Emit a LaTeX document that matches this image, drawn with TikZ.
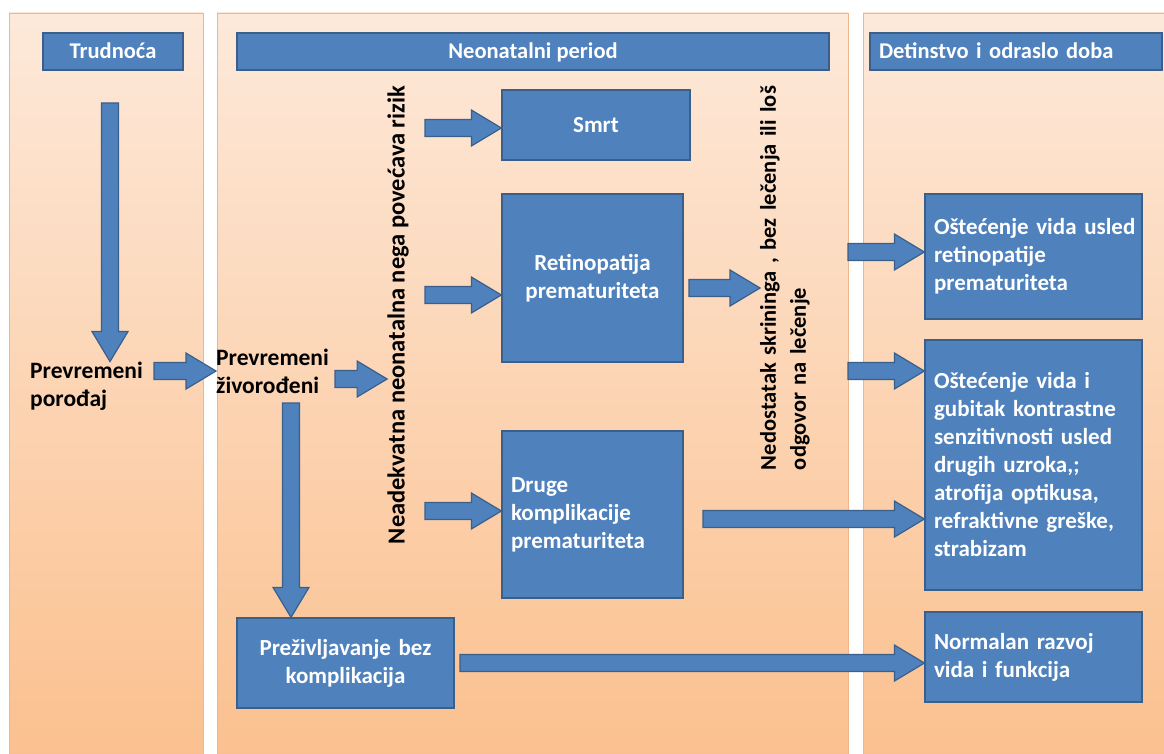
\documentclass[tikz,border=0pt]{standalone}
\usepackage{fontspec}
\setmainfont{Carlito}
\usetikzlibrary{calc}
\definecolor{boxblue}{HTML}{4F81BD}
\definecolor{boxedge}{HTML}{3A5F8B}
\definecolor{paneltop}{HTML}{FDE9DA}
\definecolor{panelbottom}{HTML}{FBC08E}
\definecolor{paneledge}{HTML}{EDB68C}
\newcommand{\flowfont}{\bfseries\fontsize{23.5}{28}\selectfont}
\newcommand{\boxfont}{\bfseries\fontsize{23}{28}\selectfont}
\newcommand{\headfont}{\bfseries\fontsize{22.5}{27}\selectfont}

\tikzset{
  panel/.style={top color=paneltop, bottom color=panelbottom, draw=paneledge, line width=0.8pt},
  bluebox/.style={draw=boxedge, fill=boxblue, line width=1.2pt, text=white, font=\boxfont,
    inner xsep=9pt, inner ysep=0pt},
  headbox/.style={bluebox, font=\headfont, minimum height=37pt, text height=17pt, text depth=2pt},
  plaintext/.style={font=\flowfont, inner sep=0pt, align=left},
  blockarrow/.style={draw=boxedge, fill=boxblue, line width=1.2pt,
    to path={let \p1=(\tikztostart), \p2=(\tikztotarget),
      \n1={atan2(\y2-\y1,\x2-\x1)}, \n2={veclen(\x2-\x1,\y2-\y1)} in
      [shift={(\p1)}, rotate=\n1]
      (0pt,8.5pt) -- ({\n2*1pt-30pt},8.5pt) -- ({\n2*1pt-30pt},18pt) -- ({\n2*1pt},0pt)
      -- ({\n2*1pt-30pt},-18pt) -- ({\n2*1pt-30pt},-8.5pt) -- (0pt,-8.5pt) -- cycle}}
}

\begin{document}
\begin{tikzpicture}[x=1pt, y=-1pt]
    \clip (0,0) rectangle (1164,754);

    % three periods
    \shadedraw[panel] (9,13) rectangle (203,762);
    \shadedraw[panel] (217,13) rectangle (848,762);
    \shadedraw[panel] (863,13) rectangle (1175,762);

    \node[headbox, minimum width=140pt] (trudnoca) at (113,51.5) {Trudnoća};
    \node[headbox, minimum width=592pt] (neonatal) at (533,51.5) {Neonatalni period};
    \node[headbox, text width=274pt, align=left] (detinstvo) at (1016,51.5) {Detinstvo i odraslo doba};

    \node[plaintext] (porodaj) [anchor=west] at (30,386) {Prevremeni\\porođaj};
    \node[plaintext] (zivorodjeni) [anchor=west] at (216,371) {Prevremeni\\živorođeni};
    \node[plaintext, rotate=90, font=\bfseries\fontsize{24.5}{28}\selectfont] (rizik) at (398,315)
      {Neadekvatna neonatalna nega povećava rizik};
    \node[plaintext, rotate=90, text width=400pt, font=\bfseries\fontsize{22.5}{30}\selectfont] (skrining) at (785,270)
      {\mbox{Nedostatak skrininga , bez lečenja ili loš}\\odgovor na lečenje};

    \node[bluebox, text width=170pt, align=center, minimum height=70pt] (smrt) at (596,125) {Smrt};
    \node[bluebox, text width=163pt, align=center, minimum height=168pt] (retino) at (592.5,278) {Retinopatija\\prematuriteta};
    \node[bluebox, text width=163pt, align=left, minimum height=167pt] (druge) at (592.5,514.5) {Druge\\komplikacije\\prematuriteta};
    \node[bluebox, text width=199pt, align=center, minimum height=90pt] (preziv) at (345.5,663) {Preživljavanje bez\\komplikacija};

    \node[bluebox, text width=199pt, align=left, minimum height=125pt] (ostecenje1) at (1033.5,256.5)
      {\mbox{Oštećenje vida usled}\\retinopatije\\prematuriteta};
    \node[bluebox, text width=199pt, align=left, minimum height=250pt] (ostecenje2) at (1033.5,465)
      {Oštećenje vida i\\gubitak kontrastne\\senzitivnosti usled\\drugih uzroka,;\\atrofija optikusa,\\refraktivne greške,\\strabizam};
    \node[bluebox, text width=199pt, align=left, minimum height=90pt] (normalan) at (1033.5,657)
      {Normalan razvoj\\vida i funkcija};

    % arrow tails
    \coordinate (t1) at (110,103);
    \coordinate (p1) at (154,371);
    \coordinate (z1) at (335,379);
    \coordinate (z2) at (291,403);
    \coordinate (s1) at (425,128);
    \coordinate (r1) at (425,295);
    \coordinate (d1) at (425,511);
    \coordinate (r2) at (689,288);
    \coordinate (d2) at (703,519);
    \coordinate (k1) at (848,252);
    \coordinate (k2) at (848,371);
    \coordinate (n1) at (460,663);

    \path[every edge/.style={blockarrow}]
    (t1) edge (t1 |- porodaj.north)
    (p1) edge (p1 -| zivorodjeni.west)
    (z1) edge (z1 -| rizik.north)
    (z2) edge (z2 |- preziv.north)

    (s1) edge (s1 -| smrt.west)
    (r1) edge (r1 -| retino.west)
    (d1) edge (d1 -| druge.west)
    (r2) edge (r2 -| skrining.north)

    (k1) edge (k1 -| ostecenje1.west)
    (k2) edge (k2 -| ostecenje2.west)
    (d2) edge (d2 -| ostecenje2.west)
    (n1) edge (n1 -| normalan.west);
\end{tikzpicture}
\end{document}
